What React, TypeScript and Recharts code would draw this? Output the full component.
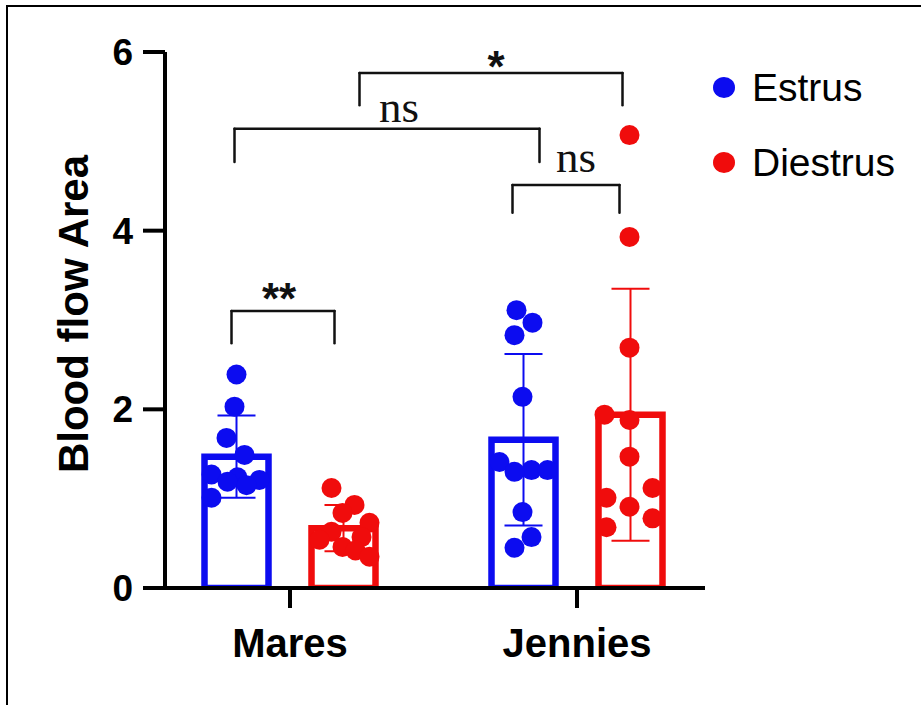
import React from 'react';
import {
  ComposedChart,
  Bar,
  Scatter,
  XAxis,
  YAxis,
  ErrorBar,
  ReferenceLine,
  ReferenceDot,
  Legend,
} from 'recharts';

// ---------------- data ----------------
const groups = ['Mares', 'Jennies'];
const seriesNames = ['Estrus', 'Diestrus'];
const estrusMean = [1.47, 1.66];
const diestrusMean = [0.67, 1.94];
const estrusSd = [0.46, 0.96];
const diestrusSd = [0.26, 1.41];

const maresEstrus = [2.39, 2.03, 1.68, 1.49, 1.27, 1.24, 1.21, 1.19, 1.15, 1.01];
const maresDiestrus = [1.12, 0.93, 0.84, 0.73, 0.63, 0.57, 0.54, 0.46, 0.42, 0.35];
const jenniesEstrus = [3.11, 2.97, 2.83, 2.14, 1.41, 1.32, 1.32, 1.3, 0.85, 0.57, 0.45];
const jenniesDiestrus = [5.07, 3.93, 2.69, 1.94, 1.88, 1.47, 1.12, 1.01, 0.91, 0.78, 0.68];

const yTicks = [0, 2, 4, 6];

// significance brackets: from/to = [groupIndex, seriesIndex]
const brackets = [
  { from: [0, 0], to: [0, 1], y: 3.1, leg: 0.36, label: '**' },
  { from: [0, 0], to: [1, 0], y: 5.14, leg: 0.37, label: 'ns' },
  { from: [1, 0], to: [1, 1], y: 4.51, leg: 0.31, label: 'ns' },
  { from: [0, 1], to: [1, 1], y: 5.765, leg: 0.36, label: '*' },
];

// ---------------- layout / style ----------------
const BLUE = '#0c0cf0';
const RED = '#f00c0c';
const colors = [BLUE, RED];
const SANS = '"Liberation Sans", Arial, Helvetica, sans-serif';
const SERIF = '"Liberation Serif", "Times New Roman", serif';
const BAND_PX = 287; // width of one category band in pixels
const SERIES_OFFSET = 53.5 / BAND_PX; // bar centre offset from group centre (axis units)
const PAD = { left: -18.5, right: -15.5 };

// beeswarm horizontal offsets in px
const jitterPx = [
  [
    [0, -2, -10, 8, -25, 1, 23, -9, 10, -25],
    [-12, 11, -1, 26, -12, 18, -24, -1, 12, 26],
  ],
  [
    [-7, 9, -9, -1, -24, 8, 24, -9, -1, 8, -9],
    [-1, -1, -1, -26, -1, -1, 22, -24, -1, 22, -24],
  ],
];
// bracket end nudges and label placement (px)
const bracketStyle = [
  { nl: -5, nr: -9, dx: -4, dy: 3, font: SANS, size: 44, weight: 700 },
  { nl: -2, nr: 16, dx: 12, dy: -7, font: SERIF, size: 45, weight: 400 },
  { nl: -11, nr: -11, dx: 10, dy: -13, font: SERIF, size: 45, weight: 400 },
  { nl: 16, nr: -8, dx: 5, dy: 9, font: SANS, size: 44, weight: 700 },
];

const pointValues = [
  [maresEstrus, maresDiestrus],
  [jenniesEstrus, jenniesDiestrus],
];

const barData = groups.map((g, i) => ({
  group: g,
  estrus: estrusMean[i],
  diestrus: diestrusMean[i],
  estrusSd: estrusSd[i],
  diestrusSd: diestrusSd[i],
}));

const barCenter = (g: number, s: number) => g + 0.5 + (s === 0 ? -SERIES_OFFSET : SERIES_OFFSET);

const scatterData = [0, 1].map((s) =>
  groups.flatMap((_, g) =>
    pointValues[g][s].map((v, k) => ({
      x: barCenter(g, s) + jitterPx[g][s][k] / BAND_PX,
      y: v,
    }))
  )
);

const renderYLabel = (props: any) => {
  const vb = props && props.viewBox ? props.viewBox : { x: 0, y: 52, width: 165, height: 536 };
  const cx = vb.x + 73;
  const cy = vb.y + vb.height / 2 - 6;
  return (
    <text
      x={cx}
      y={cy}
      transform={`rotate(-90 ${cx} ${cy})`}
      textAnchor="middle"
      dominantBaseline="central"
      fontFamily={SANS}
      fontWeight={700}
      fontSize={42}
      fill="#000"
    >
      Blood flow Area
    </text>
  );
};

const renderLegend = () => (
  <div style={{ fontFamily: SANS, fontSize: 39, color: '#000' }}>
    {seriesNames.map((n, i) => (
      <div key={n} style={{ display: 'flex', alignItems: 'center', height: 75 }}>
        <span
          style={{
            display: 'inline-block',
            width: 22,
            height: 21,
            borderRadius: '50%',
            background: colors[i],
            marginRight: 17,
          }}
        />
        <span>{n}</span>
      </div>
    ))}
  </div>
);

const dotShape = (color: string) => (p: any) => <circle cx={p.cx} cy={p.cy} r={10} fill={color} />;

export default function App() {
  const lineProps = { stroke: '#111', strokeWidth: 2.5, strokeLinecap: 'round' as const, xAxisId: 'num', ifOverflow: 'visible' as const };
  return (
    <div style={{ position: 'fixed', left: 0, top: 0, width: 921, height: 705, overflow: 'hidden', background: '#fff' }}>
      <div
        style={{
          position: 'absolute',
          left: 6,
          top: 5,
          width: 1000,
          height: 1000,
          border: '2px solid #000',
        }}
      />
      <div style={{ position: 'absolute', left: 0, top: 0 }}>
        <ComposedChart
          width={921}
          height={705}
          data={barData}
          margin={{ top: 52, right: 216, bottom: 37, left: 0 }}
          barGap={43}
        >
          <XAxis
            xAxisId="cat"
            dataKey="group"
            padding={PAD}
            height={80}
            tickSize={20}
            tickMargin={21}
            axisLine={{ stroke: '#000', strokeWidth: 4 }}
            tickLine={{ stroke: '#000', strokeWidth: 4 }}
            tick={{ fill: '#000', fontSize: 40, fontWeight: 700, fontFamily: SANS }}
          />
          <XAxis xAxisId="num" dataKey="x" type="number" domain={[0, 2]} padding={PAD} hide allowDataOverflow />
          <YAxis
            domain={[0, 6]}
            ticks={yTicks}
            width={165}
            tickSize={22}
            tickMargin={10}
            allowDataOverflow
            axisLine={{ stroke: '#000', strokeWidth: 4 }}
            tickLine={{ stroke: '#000', strokeWidth: 4 }}
            tick={{ fill: '#000', fontSize: 37, fontWeight: 700, fontFamily: SANS }}
            label={renderYLabel}
          />
          <Legend
            content={renderLegend}
            layout="vertical"
            align="center"
            verticalAlign="middle"
            wrapperStyle={{ left: 713, top: 50, width: 208 }}
          />
          <Bar
            xAxisId="cat"
            dataKey="estrus"
            name={seriesNames[0]}
            barSize={64}
            fill="#fff"
            stroke={BLUE}
            strokeWidth={6.5}
            isAnimationActive={false}
          >
            <ErrorBar dataKey="estrusSd" width={19} stroke={BLUE} strokeWidth={2} />
          </Bar>
          <Bar
            xAxisId="cat"
            dataKey="diestrus"
            name={seriesNames[1]}
            barSize={64}
            fill="#fff"
            stroke={RED}
            strokeWidth={6.5}
            isAnimationActive={false}
          >
            <ErrorBar dataKey="diestrusSd" width={19} stroke={RED} strokeWidth={2} />
          </Bar>
          <Scatter
            xAxisId="num"
            data={scatterData[0]}
            dataKey="y"
            name={seriesNames[0]}
            legendType="none"
            shape={dotShape(BLUE)}
            isAnimationActive={false}
          />
          <Scatter
            xAxisId="num"
            data={scatterData[1]}
            dataKey="y"
            name={seriesNames[1]}
            legendType="none"
            shape={dotShape(RED)}
            isAnimationActive={false}
          />
          {brackets.map((b, i) => {
            const st = bracketStyle[i];
            const xl = barCenter(b.from[0], b.from[1]) + st.nl / BAND_PX;
            const xr = barCenter(b.to[0], b.to[1]) + st.nr / BAND_PX;
            const yl = b.y - b.leg;
            return (
              <React.Fragment key={`br${i}`}>
                <ReferenceLine {...lineProps} segment={[{ x: xl, y: b.y }, { x: xr, y: b.y }]} />
                <ReferenceLine {...lineProps} segment={[{ x: xl, y: b.y }, { x: xl, y: yl }]} />
                <ReferenceLine {...lineProps} segment={[{ x: xr, y: b.y }, { x: xr, y: yl }]} />
                <ReferenceDot
                  xAxisId="num"
                  x={(xl + xr) / 2}
                  y={b.y}
                  r={0}
                  ifOverflow="visible"
                  shape={(p: any) => (
                    <text
                      x={p.cx + st.dx}
                      y={p.cy + st.dy}
                      textAnchor="middle"
                      fontFamily={st.font}
                      fontSize={st.size}
                      fontWeight={st.weight}
                      fill="#111"
                    >
                      {b.label}
                    </text>
                  )}
                />
              </React.Fragment>
            );
          })}
        </ComposedChart>
      </div>
    </div>
  );
}
